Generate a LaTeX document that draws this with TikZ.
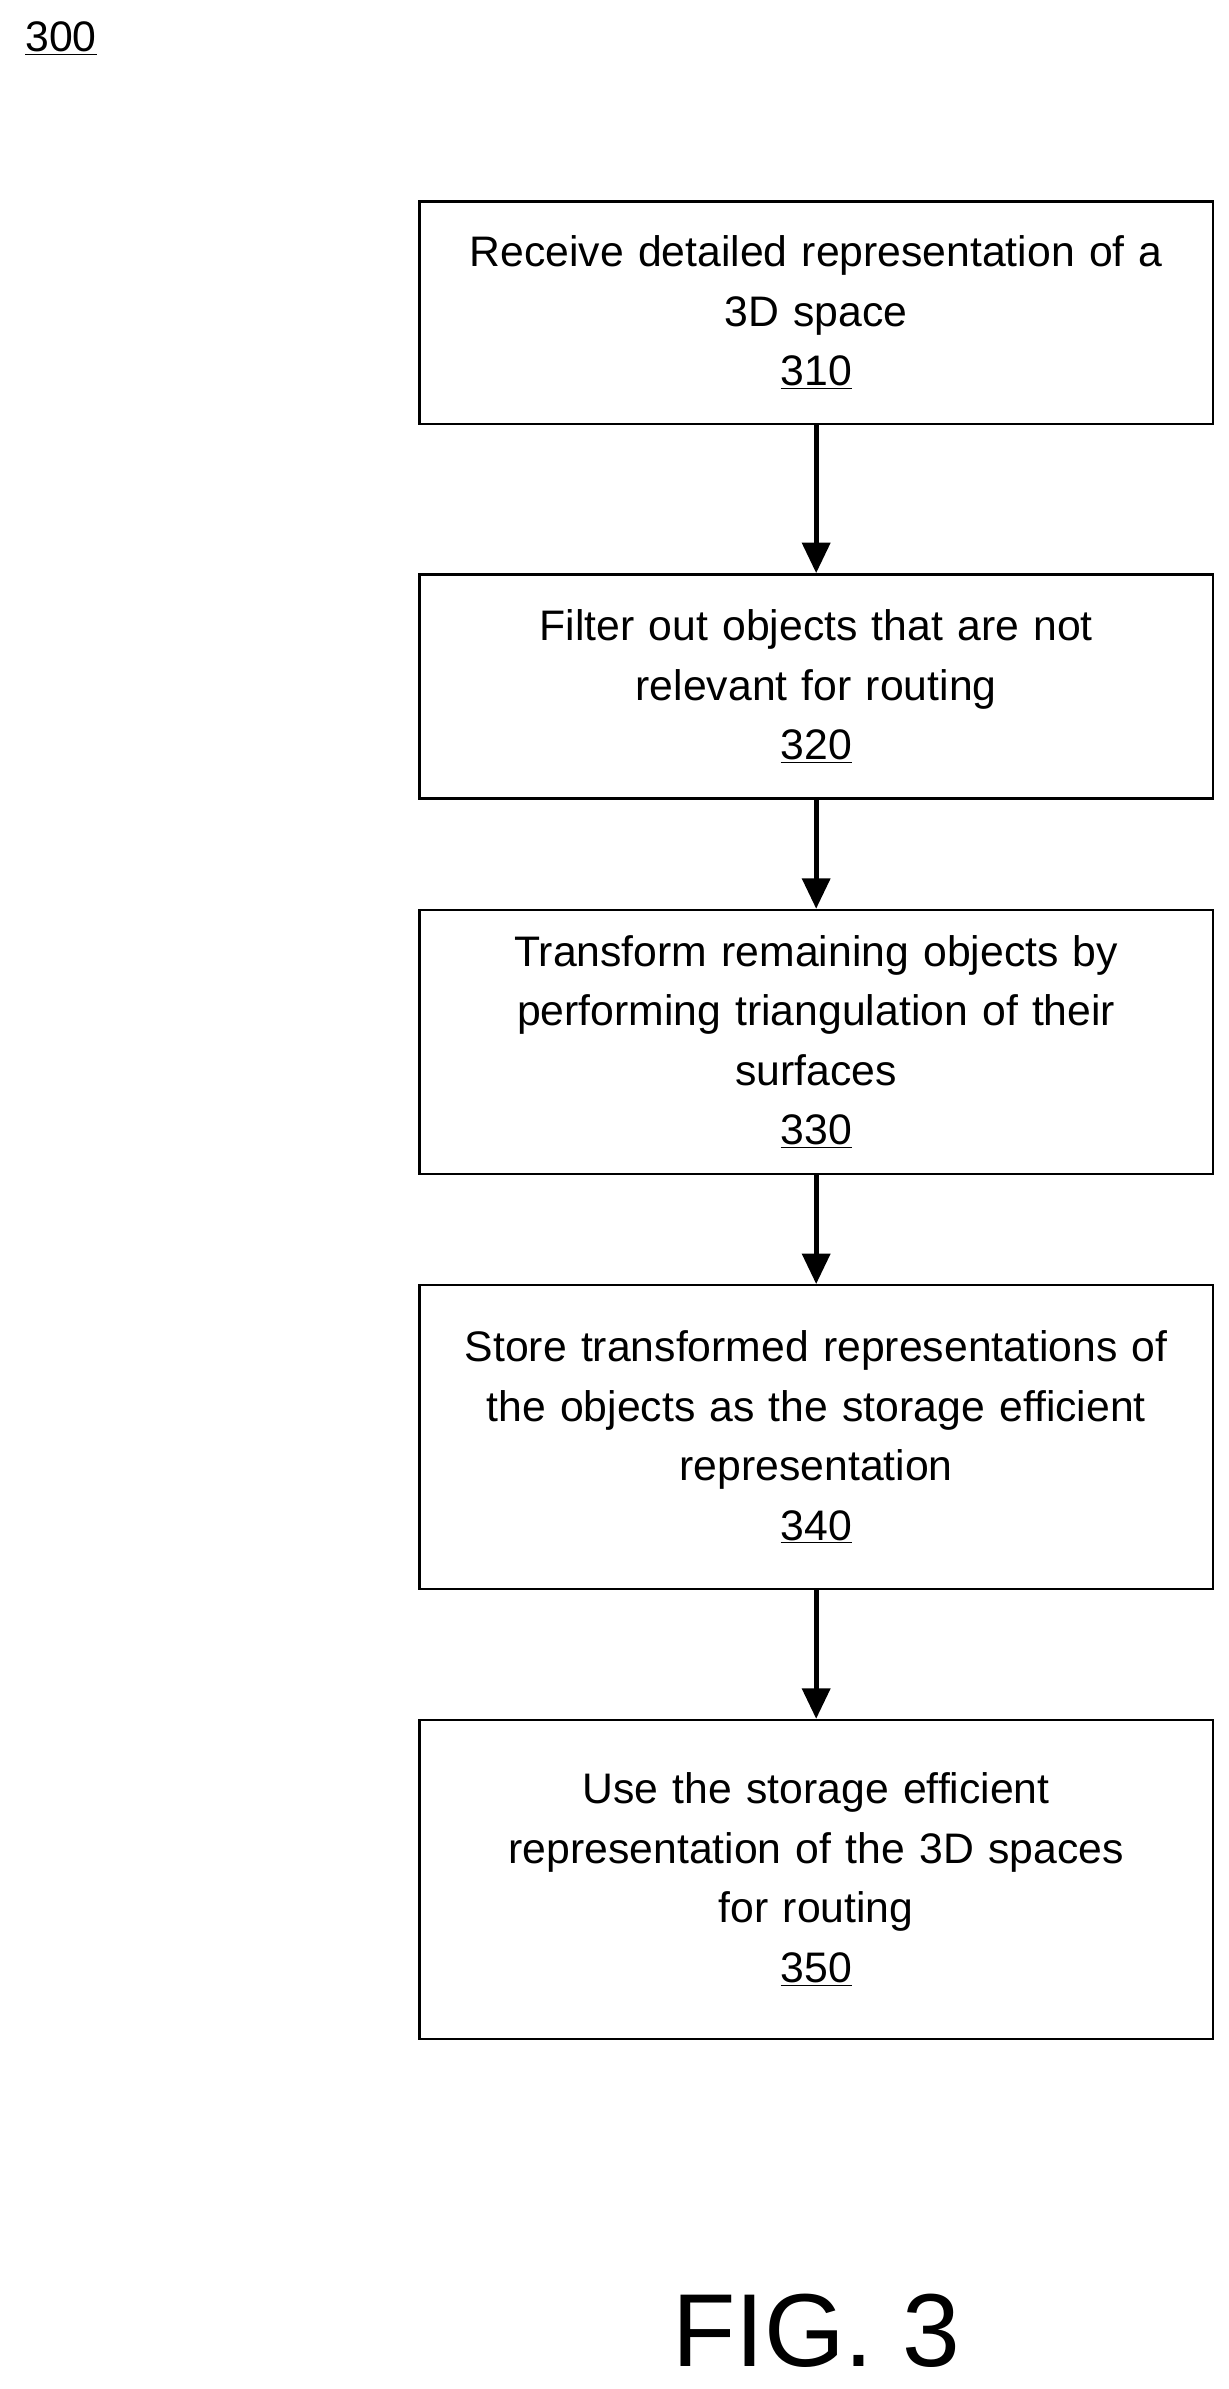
\documentclass[tikz,border=0pt]{standalone}
\usepackage{fontspec}
\setmainfont{Liberation Sans}
\usetikzlibrary{arrows.meta}
\tikzset{
  stepbox/.style={draw, line width=1.5bp, minimum width=520bp, text width=510bp, align=center,
    font=\fontsize{28bp}{39bp}\selectfont, inner sep=0pt},
  flow/.style={line width=3.5bp, -{Triangle[length=20bp,width=18bp]}}
}
\begin{document}
\begin{tikzpicture}[x=1bp,y=-1bp]
      \useasboundingbox (0,0) rectangle (805,1566);
      \node[font=\fontsize{28bp}{32bp}\selectfont] (label) at (40,25) {\underline{300}};
      \node[stepbox, minimum height=146bp] (s310) at (535,205) {Receive detailed representation of a\\3D space\\\underline{310}};
      \node[stepbox, minimum height=147bp] (s320) at (535,450) {Filter out objects that are not\\relevant for routing\\\underline{320}};
      \node[stepbox, minimum height=173bp] (s330) at (535,683) {Transform remaining objects by\\performing triangulation of their\\surfaces\\\underline{330}};
      \node[stepbox, minimum height=199bp] (s340) at (535,942) {Store transformed representations of\\the objects as the storage efficient\\representation\\\underline{340}};
      \node[stepbox, minimum height=209bp] (s350) at (535,1232) {Use the storage efficient\\representation of the 3D spaces\\for routing\\\underline{350}};
      \node[font=\fontsize{68bp}{80bp}\selectfont] (fig) at (535,1528) {FIG. 3};
      \draw[flow] (s310) -- (s320);
      \draw[flow] (s320) -- (s330);
      \draw[flow] (s330) -- (s340);
      \draw[flow] (s340) -- (s350);
\end{tikzpicture}
\end{document}
